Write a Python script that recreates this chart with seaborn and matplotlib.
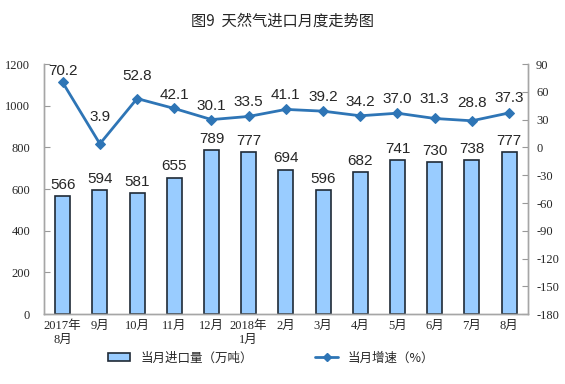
import numpy as np
import pandas as pd
import matplotlib.pyplot as plt
import seaborn as sns
from matplotlib.patches import Patch
from matplotlib.lines import Line2D

sns.set_style("white")
plt.rcParams["font.family"] = ["Liberation Serif", "Noto Sans CJK SC"]
plt.rcParams["axes.unicode_minus"] = False

months = ["2017年\n8月", "9月", "10月", "11月", "12月", "2018年\n1月",
          "2月", "3月", "4月", "5月", "6月", "7月", "8月"]
volume = [566, 594, 581, 655, 789, 777, 694, 596, 682, 741, 730, 738, 777]
growth = [70.2, 3.9, 52.8, 42.1, 30.1, 33.5, 41.1, 39.2, 34.2, 37.0, 31.3, 28.8, 37.3]
# label offset above line points (pt)
label_lift = [3, 14, 11, 5, 5, 5, 5, 5, 5, 5, 9, 8, 6]

df = pd.DataFrame({"month": months, "volume": volume, "growth": growth})
df["x"] = np.arange(len(df))

fig = plt.figure(figsize=(5.65, 3.84), dpi=100)
ax = fig.add_axes([0.078, 0.182, 0.856, 0.651])

sns.barplot(data=df, x="month", y="volume", color="#99CCFF", saturation=1,
            width=0.4, edgecolor="#1F2A36", linewidth=1.2, ax=ax)
ax.bar_label(ax.containers[0], labels=[str(v) for v in volume], padding=3,
             fontsize=11, family=["Liberation Sans"])

ax.set_ylim(0, 1200)
ax.set_yticks(range(0, 1201, 200))
ax.set_xlim(-0.5, len(months) - 0.5)
ax.set_xlabel("")
ax.set_ylabel("")
ax.set_xticks(df["x"])
ax.set_xticklabels(months, fontsize=9)
ax.tick_params(axis="x", length=0, pad=4)
ax.set_xticks(np.arange(-0.5, len(months), 1), minor=True)
ax.tick_params(axis="x", which="minor", length=4, direction="in", color="#999999")
ax.tick_params(axis="y", labelsize=9, length=4, direction="in", color="#999999", pad=10)

ax2 = ax.twinx()
sns.lineplot(data=df, x="x", y="growth", color="#2E75B6", linewidth=2,
             marker="D", markersize=5, markeredgecolor="#2E75B6", ax=ax2)
for xi, g, lift in zip(df["x"], growth, label_lift):
    ax2.annotate(f"{g:.1f}", (xi, g), xytext=(0, lift), textcoords="offset points",
                 ha="center", va="bottom", fontsize=11, family=["Liberation Sans"])
ax2.set_ylim(-180, 90)
ax2.set_yticks(range(-180, 91, 30))
ax2.set_ylabel("")
ax2.tick_params(axis="y", labelsize=9, length=4, direction="in", color="#999999", pad=6)

for a in (ax, ax2):
    a.spines["top"].set_visible(False)
    for s in ("left", "right", "bottom"):
        a.spines[s].set_color("#A6A6A6")
        a.spines[s].set_linewidth(1)

fig.text(0.5, 0.945, "图9  天然气进口月度走势图", ha="center", va="center",
         fontsize=11, family=["Noto Sans CJK SC"])

handles = [Patch(facecolor="#99CCFF", edgecolor="#1F2A36", linewidth=1.2),
           Line2D([0], [0], color="#2E75B6", linewidth=2, marker="D", markersize=4)]
fig.legend(handles, ["当月进口量（万吨）", "当月增速（%）"], loc="center",
           bbox_to_anchor=(0.48, 0.068), ncol=2, frameon=False, columnspacing=5,
           handlelength=1.8, handleheight=0.5, prop={"family": "Noto Sans CJK SC", "size": 9})

fig.savefig("out.png", dpi=100)
